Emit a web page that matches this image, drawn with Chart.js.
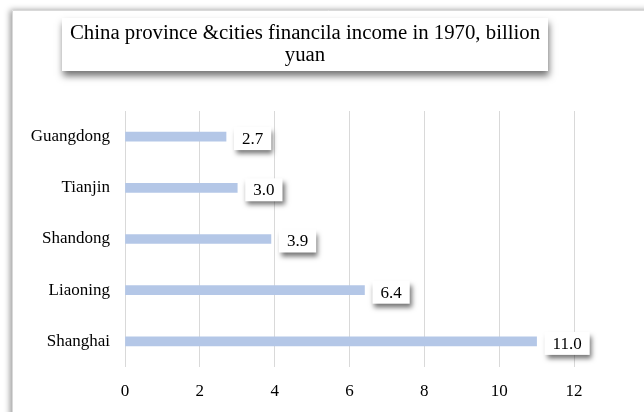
<!DOCTYPE html>
<html>
<head>
<meta charset="utf-8">
<script src="https://cdn.jsdelivr.net/npm/chart.js@4"></script>
<style>
html,body{margin:0;padding:0;background:#fff;}
canvas{display:block;}
</style>
</head>
<body>
<canvas id="c" width="644" height="412"></canvas>
<script>
const categories = ["Guangdong", "Tianjin", "Shandong", "Liaoning", "Shanghai"];
const income = [2.7, 3.0, 3.9, 6.4, 11.0];
const titleLines = ["China province &cities financila income in 1970, billion", "yuan"];
const FONT = "'Liberation Serif', 'Times New Roman', serif";

const framePlugin = {
  id: 'frame',
  beforeDraw(chart) {
    const ctx = chart.ctx;
    ctx.save();
    ctx.fillStyle = '#fff';
    ctx.fillRect(0, 0, chart.width, chart.height);
    ctx.shadowColor = 'rgba(0,0,0,0.4)';
    ctx.shadowBlur = 6;
    ctx.shadowOffsetX = -2;
    ctx.shadowOffsetY = 0;
    ctx.fillRect(12, 10, 700, 500);
    ctx.restore();
    ctx.save();
    ctx.strokeStyle = '#d9d9d9';
    ctx.lineWidth = 1;
    ctx.beginPath();
    ctx.moveTo(12.5, 500);
    ctx.lineTo(12.5, 10.5);
    ctx.lineTo(700, 10.5);
    ctx.stroke();
    ctx.restore();
  },
  afterDraw(chart) {
    const ctx = chart.ctx;
    ctx.save();
    ctx.shadowColor = 'rgba(0,0,0,0.55)';
    ctx.shadowBlur = 7;
    ctx.shadowOffsetX = 1;
    ctx.shadowOffsetY = 5;
    ctx.fillStyle = '#fff';
    ctx.fillRect(62, 18, 486, 53);
    ctx.restore();
    ctx.save();
    ctx.fillStyle = '#000';
    ctx.font = "20.8px " + FONT;
    ctx.textAlign = 'center';
    ctx.textBaseline = 'middle';
    ctx.fillText(titleLines[0], 305, 34);
    ctx.fillText(titleLines[1], 305, 56);
    ctx.restore();
  }
};

const labelPlugin = {
  id: 'boxLabels',
  afterDatasetsDraw(chart) {
    const ctx = chart.ctx;
    const meta = chart.getDatasetMeta(0);
    meta.data.forEach((bar, i) => {
      const txt = income[i].toFixed(1);
      ctx.save();
      ctx.font = "17px " + FONT;
      const w = ctx.measureText(txt).width + 16;
      const h = 23;
      const x = bar.x + 8;
      const y = bar.y - h / 2 + 2;
      ctx.shadowColor = 'rgba(0,0,0,0.55)';
      ctx.shadowBlur = 5;
      ctx.shadowOffsetX = 2;
      ctx.shadowOffsetY = 4;
      ctx.fillStyle = '#fff';
      ctx.fillRect(x, y, w, h);
      ctx.restore();
      ctx.save();
      ctx.font = "17px " + FONT;
      ctx.fillStyle = '#000';
      ctx.textAlign = 'center';
      ctx.textBaseline = 'middle';
      ctx.fillText(txt, x + w / 2, y + h / 2 + 1);
      ctx.restore();
    });
  }
};

new Chart(document.getElementById('c'), {
  type: 'bar',
  data: {
    labels: categories,
    datasets: [{
      data: income,
      backgroundColor: '#b4c7e7',
      barThickness: 9
    }]
  },
  plugins: [framePlugin, labelPlugin],
  options: {
    indexAxis: 'y',
    responsive: false,
    animation: false,
    devicePixelRatio: 1,
    layout: { padding: { top: 111, right: 70, left: 0, bottom: 0 } },
    plugins: { legend: { display: false }, title: { display: false }, tooltip: { enabled: false } },
    scales: {
      x: {
        min: 0, max: 12,
        ticks: { stepSize: 2, color: '#000', font: { family: FONT, size: 17 }, padding: 14 },
        grid: { color: '#d9d9d9', drawTicks: false },
        border: { display: false },
        afterFit(s) { s.height = 45; }
      },
      y: {
        ticks: { color: '#000', font: { family: FONT, size: 17 }, padding: 15 },
        grid: { display: false, drawTicks: false },
        border: { display: false },
        afterFit(s) { s.width = 125; }
      }
    }
  }
});
</script>
</body>
</html>
